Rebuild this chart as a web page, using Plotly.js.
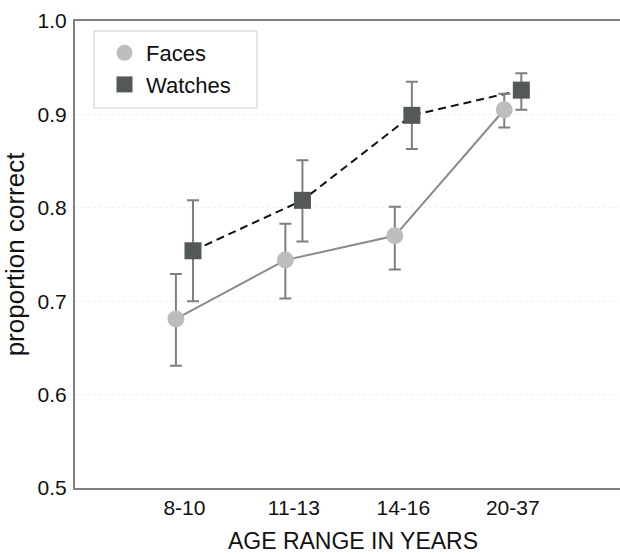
<!DOCTYPE html>
<html>
<head>
<meta charset="utf-8">
<script src="https://cdn.plot.ly/plotly-3.0.1.min.js"></script>
<style>
  html, body { margin: 0; padding: 0; overflow: hidden; background: #ffffff; }
  #chart { width: 640px; height: 554px; }
</style>
</head>
<body>
<div id="chart"></div>
<script>
// ---- data ----
const ageRanges = ["8-10", "11-13", "14-16", "20-37"];
const facesMean = [0.681, 0.744, 0.770, 0.905];
const facesErrPlus = [0.048, 0.039, 0.031, 0.017];
const facesErrMinus = [0.050, 0.041, 0.036, 0.019];
const watchesMean = [0.754, 0.808, 0.899, 0.926];
const watchesErrPlus = [0.054, 0.043, 0.036, 0.018];
const watchesErrMinus = [0.054, 0.044, 0.036, 0.021];
const yTicks = [0.5, 0.6, 0.7, 0.8, 0.9, 1.0];

// ---- layout helpers ----
const W = 640, H = 554;
const M = { l: 75, r: 9, t: 21, b: 66 };
const PW = W - M.l - M.r, PH = H - M.t - M.b;
const px2x = p => (p - M.l) / PW;      // pixel -> paper x
const px2y = p => 1 - (p - M.t) / PH;  // pixel -> paper y

const dodge = 0.078;
const catIdx = ageRanges.map((_, i) => i);
const facesX = catIdx.map(i => i - dodge);
const watchesX = catIdx.map(i => i + dodge);

const FONT = '"Liberation Sans", Arial, Helvetica, sans-serif';
const errStyle = { type: 'data', symmetric: false, color: '#7f7f7f', thickness: 2, width: 6 };

const traces = [
  { x: facesX, y: facesMean, mode: 'lines', showlegend: false, hoverinfo: 'skip',
    line: { color: '#8a8a8a', width: 2 } },
  { x: watchesX, y: watchesMean, mode: 'lines', showlegend: false, hoverinfo: 'skip',
    line: { color: '#111111', width: 2, dash: '8px,5px' } },
  { x: facesX, y: facesMean, mode: 'markers', name: 'Faces',
    marker: { symbol: 'circle', size: 17, color: '#bcbdbf' },
    error_y: Object.assign({ array: facesErrPlus, arrayminus: facesErrMinus }, errStyle) },
  { x: watchesX, y: watchesMean, mode: 'markers', name: 'Watches',
    marker: { symbol: 'square', size: 17, color: '#535858' },
    error_y: Object.assign({ array: watchesErrPlus, arrayminus: watchesErrMinus }, errStyle) }
];

const layout = {
  width: W, height: H,
  margin: { l: M.l, r: M.r, t: M.t, b: M.b, pad: 0 },
  paper_bgcolor: '#ffffff', plot_bgcolor: '#ffffff',
  font: { family: FONT, color: '#111111', size: 21 },
  showlegend: true,
  legend: {
    x: px2x(103), y: px2y(32), xanchor: 'left', yanchor: 'top',
    bgcolor: 'rgba(0,0,0,0)', borderwidth: 0,
    font: { family: FONT, size: 22, color: '#111111' },
    itemsizing: 'trace', itemwidth: 33, tracegroupgap: 0
  },
  shapes: [
    { type: 'rect', xref: 'paper', yref: 'paper', layer: 'below',
      x0: px2x(94), x1: px2x(257), y0: px2y(108), y1: px2y(31),
      line: { color: '#cccccc', width: 1 }, fillcolor: '#ffffff' }
  ],
  xaxis: {
    range: [-1, 4.08], tickmode: 'array', tickvals: catIdx, ticktext: ageRanges,
    showgrid: false, zeroline: false, ticks: '', ticklabelstandoff: 0,
    showline: true, linecolor: '#808080', linewidth: 2, mirror: true,
    tickfont: { family: FONT, size: 21, color: '#111111' },
    title: { text: 'AGE RANGE IN YEARS', font: { family: FONT, size: 23, color: '#111111' }, standoff: 18 },
    automargin: false, fixedrange: true
  },
  yaxis: {
    range: [0.5, 1.0], tickmode: 'array', tickvals: yTicks,
    ticktext: yTicks.map(v => v.toFixed(1)),
    showgrid: true, gridcolor: '#f0f0f0', gridwidth: 1, griddash: 'dot',
    zeroline: false, ticks: '', ticklabelstandoff: 2,
    showline: true, linecolor: '#808080', linewidth: 2, mirror: true,
    tickfont: { family: FONT, size: 21, color: '#111111' },
    title: { text: 'proportion correct', font: { family: FONT, size: 26, color: '#111111' }, standoff: 7 },
    automargin: false, fixedrange: true
  }
};

Plotly.newPlot('chart', traces, layout, { displayModeBar: false, staticPlot: true });
</script>
</body>
</html>
